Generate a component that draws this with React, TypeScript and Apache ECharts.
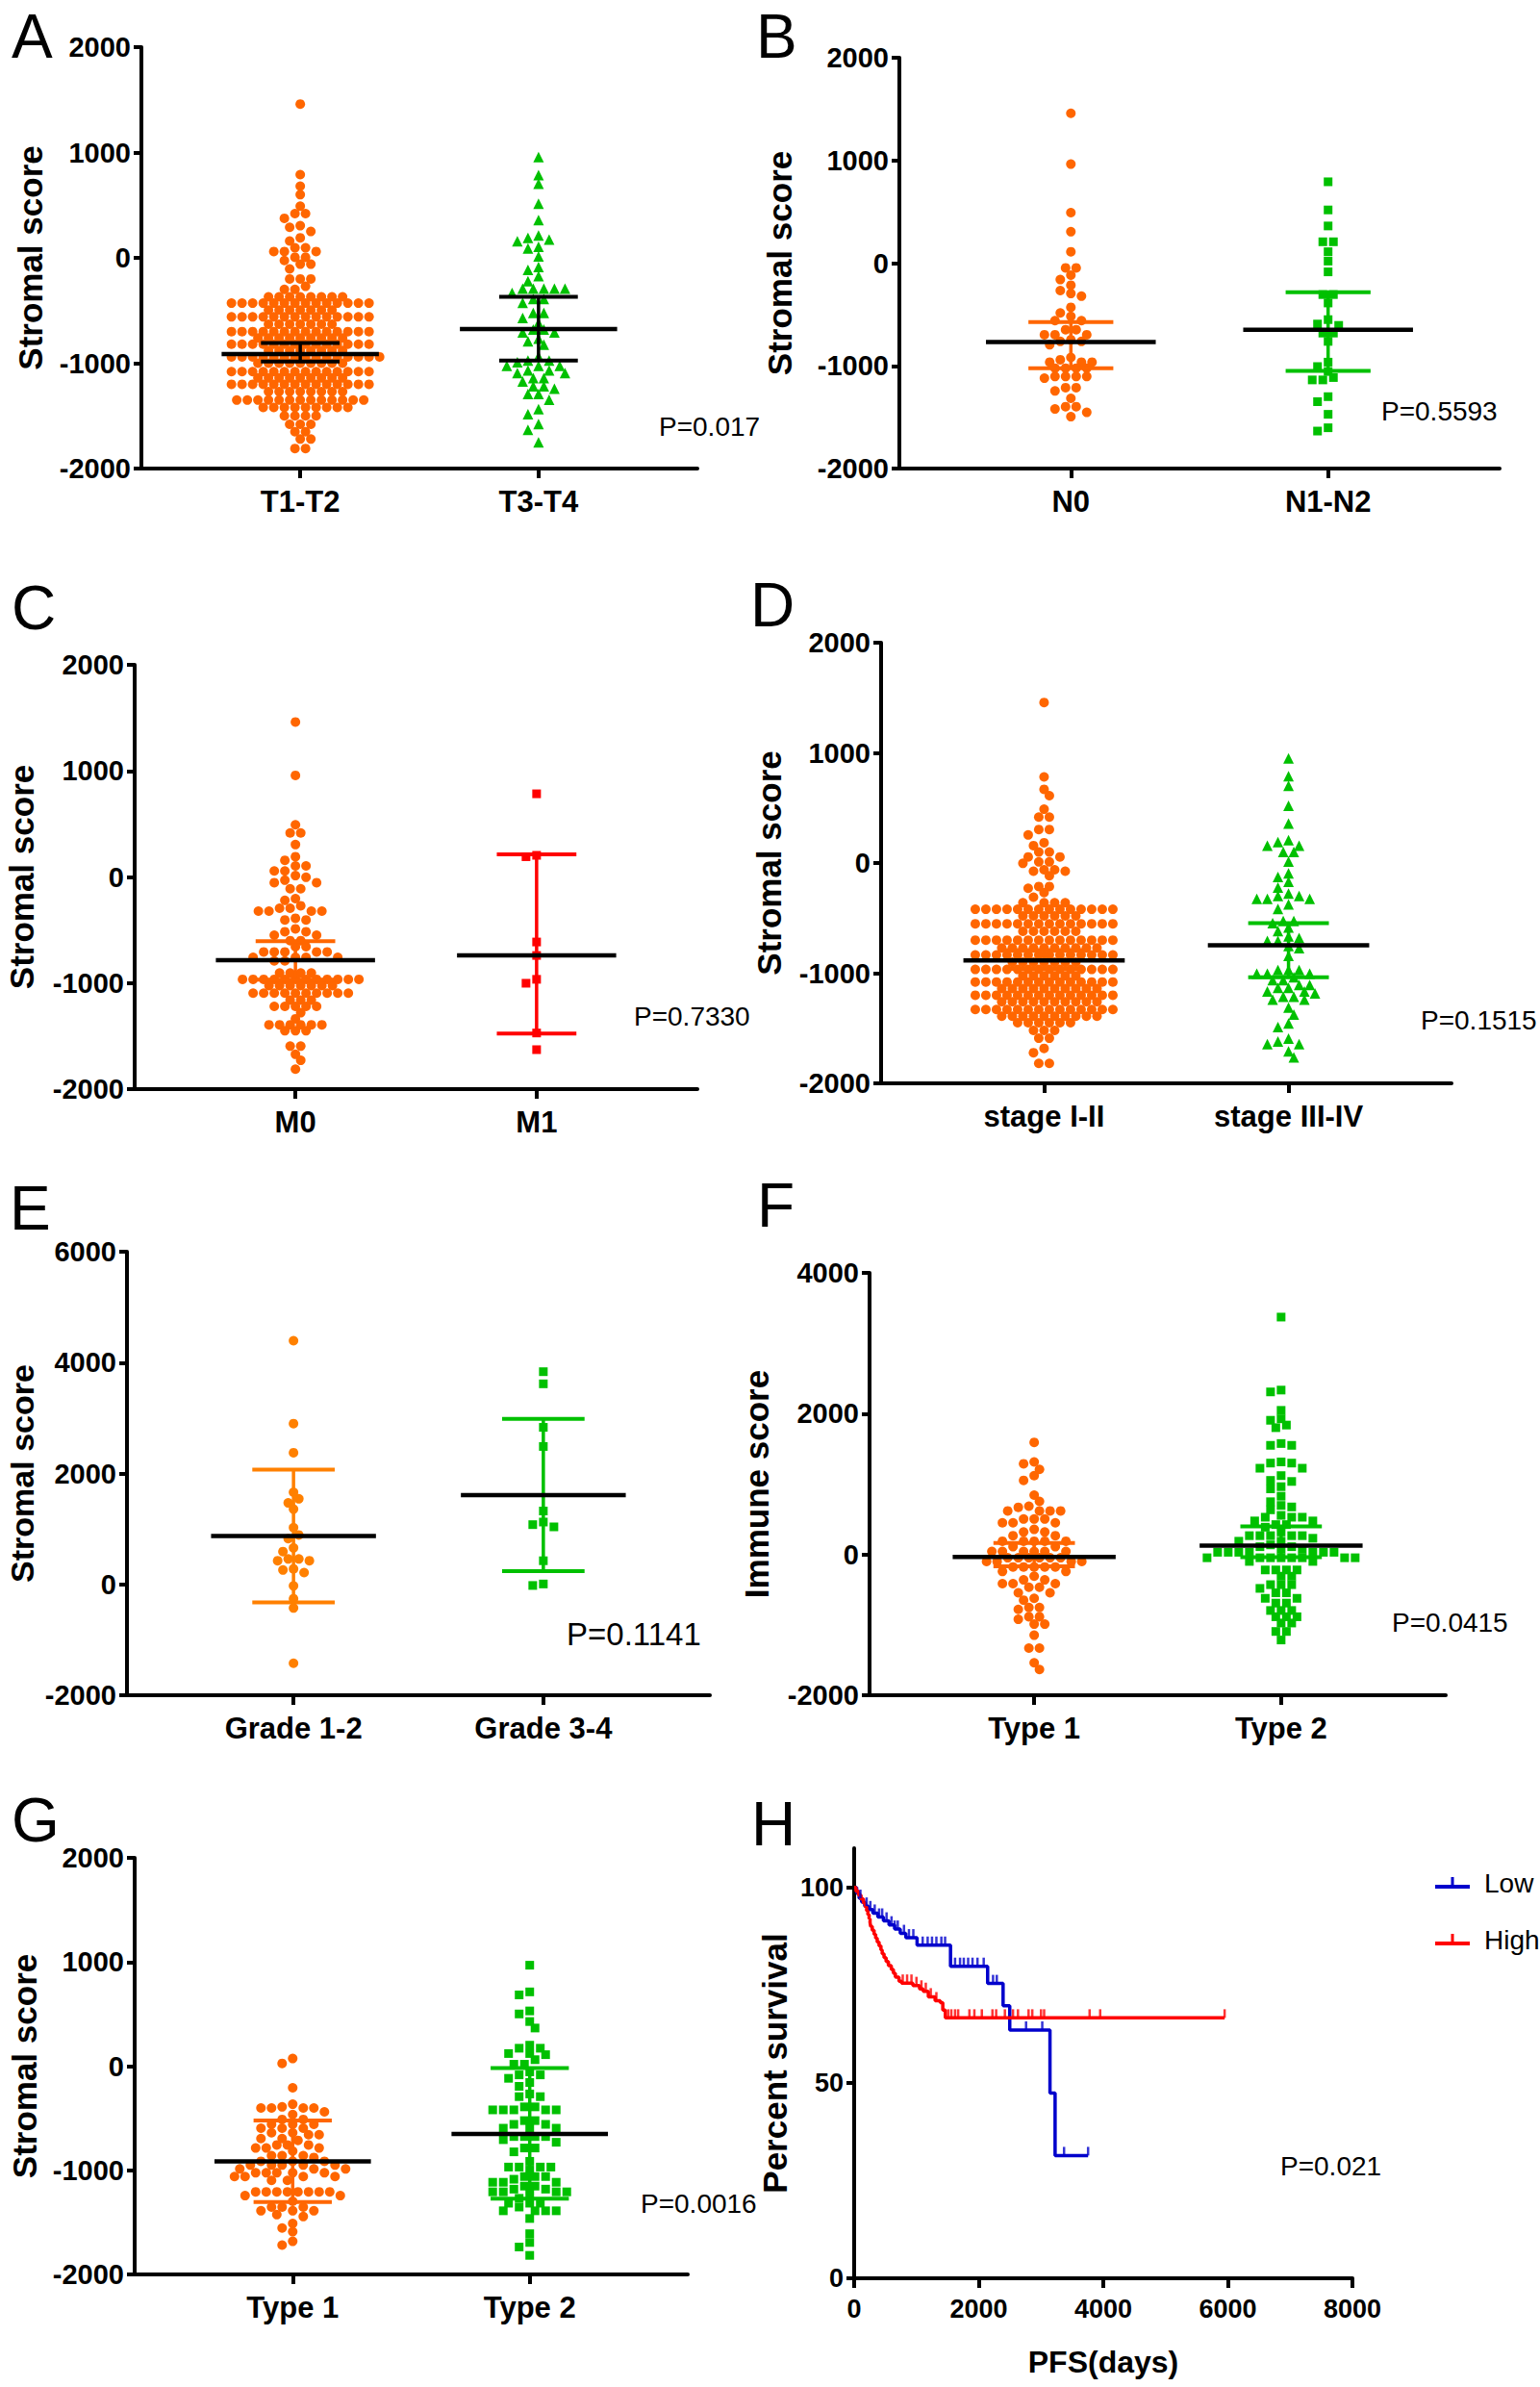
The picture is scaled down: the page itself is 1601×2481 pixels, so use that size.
import React, { useEffect, useRef } from 'react';
import * as echarts from 'echarts';

const FONT = '"Liberation Sans", Arial, Helvetica, sans-serif';
const ORANGE = '#FF6600';
const ORANGE_E = '#FF8000';
const GREEN = '#00C000';
const RED = '#FF0000';
const BLUE = '#0000CC';
const BLACK = '#000000';

// ---------- DATA (value, count) rows ----------
const A_categories = ['T1-T2', 'T3-T4'];
const A_T12_rows: [number, number][] = [[1460,1],[790,1],[680,1],[600,1],[490,1],[420,2],[375,1],[305,1],[290,1],[250,1],[190,1],[160,1],[95,2],[60,3],[5,2],[-25,1],[-60,2],[-105,1],[-200,3],[-270,1],[-300,2],
  [-370,8],[-430,14],[-495,7],[-560,14],[-630,7],[-700,14],[-760,9],[-820,14],[-880,8],[-940,15],[-1000,9],[-1080,14],[-1140,9],[-1200,14],[-1270,8],[-1350,13],[-1420,9],[-1500,4],[-1580,3],[-1650,2],[-1720,2],[-1810,2]];
const A_T34_rows: [number, number][] = [[957,1],[786,1],[704,1],[513,1],[358,1],[212,1],[190,1],[174,1],[158,1],[105,1],[89,1],[13,1],[-86,1],[-114,1],[-174,1],[-222,1],[-292,5],[-333,1],[-390,2],[-428,1],[-523,2],[-570,1],[-618,1],[-681,2],[-707,2],[-767,1],[-792,1],[-824,1],[-935,1],[-976,2],[-992,1],[-1024,3],[-1068,2],[-1093,2],[-1141,2],[-1173,1],[-1220,2],[-1242,1],[-1293,2],[-1347,1],[-1436,1],[-1483,1],[-1578,1],[-1632,1],[-1750,1]];
const A_mean = [-913, -675];
const A_low = [-983, -976];
const A_high = [-808, -371];

const B_categories = ['N0', 'N1-N2'];
const B_N0_rows: [number, number][] = [[1459,1],[964,1],[492,1],[306,1],[111,1],[-46,2],[-117,1],[-160,1],[-215,1],[-267,1],[-296,1],[-322,1],[-430,1],[-485,1],[-518,1],[-560,2],[-648,2],[-697,3],[-746,1],[-762,2],[-795,1],[-918,1],[-941,1],[-964,3],[-1023,4],[-1104,4],[-1120,1],[-1212,2],[-1244,1],[-1316,1],[-1397,2],[-1420,1],[-1453,1],[-1495,1]];
const B_N12_rows: [number, number][] = [[792,1],[518,1],[362,1],[208,2],[111,1],[20,1],[-85,1],[-306,2],[-388,1],[-550,1],[-593,1],[-606,1],[-681,2],[-762,1],[-964,1],[-1007,1],[-1055,1],[-1114,1],[-1137,2],[-1300,1],[-1349,1],[-1472,1],[-1603,1],[-1635,1]];
const B_mean = [-769, -648];
const B_low = [-1023, -1049];
const B_high = [-573, -283];

const C_categories = ['M0', 'M1'];
const C_M0_rows: [number, number][] = [[1461,1],[958,1],[492,1],[415,2],[305,1],[191,1],[157,1],[104,2],[57,2],[13,1],[-3,1],[-30,1],[-54,2],[-111,2],[-204,1],[-221,1],[-271,1],[-295,2],[-322,4],[-389,1],[-405,2],[-489,1],[-516,2],[-549,2],[-600,2],[-657,2],[-707,5],[-757,4],[-791,2],[-905,4],[-965,12],[-1025,7],[-1095,10],[-1160,3],[-1220,5],[-1280,1],[-1337,1],[-1394,6],[-1450,3],[-1595,2],[-1672,1],[-1729,1],[-1812,1]];
const C_M1_rows: [number, number][] = [[784,1],[204,1],[191,1],[-613,1],[-740,1],[-965,1],[-1002,1],[-1471,1],[-1628,1]];
const C_mean = [-784, -740];
const C_low = [-968, -1477];
const C_high = [-606, 214];

const D_categories = ['stage I-II', 'stage III-IV'];
const D_I_II_rows: [number, number][] = [[1457,1],[782,1],[669,1],[611,1],[488,1],[417,2],[304,2],[255,1],[184,1],[158,1],[100,2],[55,2],[10,2],[-3,1],[-61,2],[-74,2],[-116,1],[-213,2],[-229,1],[-268,1],[-310,1],
  [-360,4],[-420,14],[-480,6],[-552,14],[-620,6],[-700,14],[-770,10],[-835,14],[-900,7],[-966,14],[-1025,6],[-1080,14],[-1140,10],[-1200,14],[-1260,10],[-1330,14],[-1390,10],[-1450,6],[-1520,3],[-1590,2],[-1683,1],[-1722,1],[-1819,2]];
const D_III_IV_rows: [number, number][] = [[950,1],[788,1],[701,1],[520,1],[359,1],[207,1],[191,1],[158,2],[100,2],[13,1],[-94,1],[-126,1],[-171,1],[-223,1],[-278,1],[-300,2],[-326,3],[-375,1],[-417,1],[-527,2],[-546,1],[-585,1],[-617,1],[-666,1],[-682,1],[-708,2],[-753,1],[-772,1],[-843,1],[-972,3],[-1005,3],[-1037,1],[-1063,2],[-1108,2],[-1134,2],[-1166,2],[-1183,1],[-1215,2],[-1241,2],[-1312,1],[-1376,1],[-1457,1],[-1489,1],[-1593,1],[-1619,1],[-1645,2],[-1709,1],[-1764,1]];
const D_mean = [-885, -746];
const D_low = [-960, -1037];
const D_high = [-790, -546];

const E_categories = ['Grade 1-2', 'Grade 3-4'];
const E_G12_rows: [number, number][] = [[4395,1],[2900,1],[2374,1],[1662,1],[1543,1],[1469,1],[1356,1],[1024,1],[891,1],[824,1],[658,1],[592,1],[459,2],[426,2],[279,1],[259,1],[213,1],[-27,1],[-259,1],[-426,1],[-1423,1]];
const E_G34_rows: [number, number][] = [[3836,1],[3617,1],[2832,1],[2487,1],[1323,1],[1124,1],[1077,1],[1037,1],[426,1],[7,1],[-20,1]];
const E_mean = [871, 1609];
const E_low = [-326, 239];
const E_high = [2068, 2985];

const F_categories = ['Type 1', 'Type 2'];
const F_T1_rows: [number, number][] = [[1592,1],[1314,1],[1288,1],[1209,1],[1120,1],[1052,1],[843,1],[754,1],[686,1],[670,1],[618,4],[503,3],[450,3],[356,1],[319,2],[267,2],[188,5],[110,2],[42,6],[-47,6],[-99,4],[-178,5],[-241,2],[-309,1],[-361,2],[-414,3],[-466,2],[-545,2],[-623,1],[-649,1],[-754,2],[-780,1],[-885,2],[-921,1],[-990,2],[-1147,1],[-1330,2],[-1539,1],[-1634,1]];
const F_T2_rows: [number, number][] = [[3372,1],[2335,1],[2309,1],[2047,1],[1927,1],[1906,1],[1838,1],[1801,1],[1576,1],[1550,2],[1314,1],[1298,2],[1225,2],[1120,1],[1052,1],[1037,1],[963,1],[932,1],[827,1],[749,1],[696,1],[675,1],[634,1],[555,1],[529,3],[476,2],[424,2],[387,1],[319,1],[267,5],[230,1],[188,2],[136,1],[110,2],[73,2],[31,7],[-47,8],[-99,2],[-220,4],[-309,2],[-429,3],[-482,1],[-545,2],[-623,2],[-691,2],[-796,3],[-885,3],[-974,2],[-1094,2],[-1215,1]];
const F_mean = [-37, 126];
const F_low = [-168, -40];
const F_high = [162, 400];

const G_categories = ['Type 1', 'Type 2'];
const G_T1_rows: [number, number][] = [[73,1],[26,1],[-208,1],[-366,1],[-391,1],[-402,4],[-439,1],[-464,1],[-512,2],[-559,3],[-596,3],[-640,2],[-658,2],[-695,2],[-713,1],[-757,3],[-786,3],[-815,1],[-859,3],[-877,1],[-914,3],[-950,5],[-987,3],[-1024,5],[-1060,4],[-1097,2],[-1207,8],[-1243,2],[-1298,1],[-1353,3],[-1389,3],[-1426,1],[-1444,1],[-1510,1],[-1554,1],[-1590,1],[-1682,1],[-1718,1]];
const G_T2_rows: [number, number][] = [[969,1],[713,1],[684,1],[530,1],[501,1],[428,1],[366,1],[201,1],[172,2],[121,2],[110,1],[62,1],[18,2],[-55,1],[-84,2],[-117,1],[-157,1],[-194,1],[-267,1],[-293,2],[-391,2],[-420,5],[-523,2],[-559,2],[-596,3],[-676,4],[-706,1],[-731,1],[-786,2],[-823,1],[-914,1],[-969,4],[-998,1],[-1060,3],[-1086,1],[-1115,3],[-1152,2],[-1181,2],[-1207,4],[-1225,1],[-1269,1],[-1316,3],[-1353,1],[-1389,4],[-1463,1],[-1609,1],[-1693,1],[-1737,1],[-1817,1]];
const G_mean = [-914, -651];
const G_low = [-1305, -1272];
const G_high = [-523, -18];

// Kaplan-Meier (panel H)
const H_Low_times = [0, 40, 80, 120, 170, 230, 300, 380, 470, 560, 650, 740, 830, 1010, 1547, 2143, 2391, 2498, 3144, 3226];
const H_Low_surv = [100, 98.5, 97.2, 96.2, 95.2, 94.3, 93.4, 92.4, 91.4, 90.4, 89.3, 88.2, 87.1, 85.2, 79.8, 75.4, 69.7, 63.5, 47.4, 31.4];
const H_Low_end = 3756;
const H_Low_censor = [100, 200, 260, 330, 400, 450, 520, 600, 650, 700, 800, 880, 950, 1100, 1180, 1250, 1320, 1400, 1460, 1620, 1700, 1760, 1830, 1900, 1980, 2080, 2230, 2290, 2760, 3020, 3370, 3756];
const H_High_times = [0, 30, 70, 110, 150, 180, 200, 220, 240, 255, 265, 290, 320, 345, 370, 400, 430, 450, 480, 513, 550, 596, 630, 662, 720, 761, 943, 1050, 1109, 1191, 1300, 1382, 1423, 1464];
const H_High_surv = [100, 99, 98, 97, 96, 95, 94, 93, 92, 91, 90, 89, 88, 87, 86, 85, 84, 83, 82, 81, 80, 79, 78, 77, 76, 75.5, 74.9, 74, 73.4, 72, 71, 70.5, 68.6, 66.6];
const H_High_end = 5948;
const H_High_censor = [780, 850, 920, 1000, 1080, 1150, 1230, 1320, 1510, 1560, 1620, 1670, 1850, 1930, 2050, 2220, 2280, 2420, 2550, 2630, 2800, 2860, 3000, 3050, 3780, 3950, 5948];
const H_x_ticks = [0, 2000, 4000, 6000, 8000];
const H_y_ticks = [0, 50, 100];

// ---------- helpers ----------
function expand(rows: [number, number][]): number[] {
  const out: number[] = [];
  rows.forEach(([v, n]) => { for (let i = 0; i < n; i++) out.push(v); });
  return out;
}

// beeswarm layout: returns horizontal pixel offsets
function swarm(values: number[], pxPerUnit: number, d: number): number[] {
  const minDist = d * 0.75;
  const placed: { x: number; y: number }[] = [];
  const res: number[] = new Array(values.length).fill(0);
  const order = values.map((v, i) => ({ v, i })).sort((a, b) => b.v - a.v);
  const hit = (x: number, y: number) => placed.some(p => (p.x - x) ** 2 + (p.y - y) ** 2 < minDist * minDist);
  let k = 0;
  while (k < order.length) {
    let j = k;
    while (j < order.length && order[j].v === order[k].v) j++;
    const n = j - k;
    const y = -order[k].v * pxPerUnit;
    let chosen: number[] | null = null;
    for (const shift of [0, d / 2, -d / 2]) {
      const xs = Array.from({ length: n }, (_, t) => (t - (n - 1) / 2) * d + shift);
      if (xs.every(x => !hit(x, y))) { chosen = xs; break; }
    }
    if (chosen) {
      chosen.forEach((x, t) => { placed.push({ x, y }); res[order[k + t].i] = x; });
    } else {
      for (let t = k; t < j; t++) {
        let x = 0;
        for (let s = 0; s < 600; s++) {
          const c = (s % 2 === 0 ? 1 : -1) * Math.ceil(s / 2) * (d / 2);
          if (!hit(c, y)) { x = c; break; }
        }
        placed.push({ x, y });
        res[order[t].i] = x;
      }
    }
    k = j;
  }
  return res;
}

function survAt(times: number[], surv: number[], t: number) {
  let s = surv[0];
  for (let i = 0; i < times.length; i++) if (times[i] <= t) s = surv[i];
  return s;
}

const XMIN = 1 / 3, XMAX = 8 / 3;

type Group = { rows: [number, number][]; symbol: string; size: number; color: string };
type Panel = {
  letter: string; lx: number; ly: number;
  grid: { left: number; top: number; width: number; height: number };
  yMin: number; yMax: number; yInterval: number; yName: string; nameGap: number; nameSize: number;
  cats: string[]; groups: Group[];
  mean: number[]; low: number[]; high: number[]; barColors: string[];
  p: { text: string; x: number; y: number; size: number };
};

const PANELS: Panel[] = [
  { letter: 'A', lx: 12, ly: 38, grid: { left: 147, top: 49, width: 578, height: 438 }, yMin: -2000, yMax: 2000, yInterval: 1000, yName: 'Stromal score', nameGap: 100, nameSize: 35,
    cats: A_categories, groups: [{ rows: A_T12_rows, symbol: 'circle', size: 10, color: ORANGE }, { rows: A_T34_rows, symbol: 'triangle', size: 11, color: GREEN }],
    mean: A_mean, low: A_low, high: A_high, barColors: [BLACK, BLACK], p: { text: 'P=0.017', x: 685, y: 443, size: 28 } },
  { letter: 'B', lx: 786, ly: 38, grid: { left: 935, top: 60, width: 624, height: 427 }, yMin: -2000, yMax: 2000, yInterval: 1000, yName: 'Stromal score', nameGap: 109, nameSize: 35,
    cats: B_categories, groups: [{ rows: B_N0_rows, symbol: 'circle', size: 10, color: ORANGE }, { rows: B_N12_rows, symbol: 'rect', size: 9, color: GREEN }],
    mean: B_mean, low: B_low, high: B_high, barColors: [ORANGE, GREEN], p: { text: 'P=0.5593', x: 1436, y: 427, size: 28 } },
  { letter: 'C', lx: 12, ly: 632, grid: { left: 140, top: 691, width: 585, height: 441 }, yMin: -2000, yMax: 2000, yInterval: 1000, yName: 'Stromal score', nameGap: 102, nameSize: 35,
    cats: C_categories, groups: [{ rows: C_M0_rows, symbol: 'circle', size: 10, color: ORANGE }, { rows: C_M1_rows, symbol: 'rect', size: 9, color: RED }],
    mean: C_mean, low: C_low, high: C_high, barColors: [ORANGE, RED], p: { text: 'P=0.7330', x: 659, y: 1056, size: 28 } },
  { letter: 'D', lx: 780, ly: 629, grid: { left: 916, top: 668, width: 593, height: 458 }, yMin: -2000, yMax: 2000, yInterval: 1000, yName: 'Stromal score', nameGap: 101, nameSize: 35,
    cats: D_categories, groups: [{ rows: D_I_II_rows, symbol: 'circle', size: 10, color: ORANGE }, { rows: D_III_IV_rows, symbol: 'triangle', size: 11, color: GREEN }],
    mean: D_mean, low: D_low, high: D_high, barColors: [ORANGE, GREEN], p: { text: 'P=0.1515', x: 1477, y: 1060, size: 28 } },
  { letter: 'E', lx: 10, ly: 1256, grid: { left: 132, top: 1301, width: 606, height: 461 }, yMin: -2000, yMax: 6000, yInterval: 2000, yName: 'Stromal score', nameGap: 93, nameSize: 34,
    cats: E_categories, groups: [{ rows: E_G12_rows, symbol: 'circle', size: 10, color: ORANGE_E }, { rows: E_G34_rows, symbol: 'rect', size: 9, color: GREEN }],
    mean: E_mean, low: E_low, high: E_high, barColors: [ORANGE_E, GREEN], p: { text: 'P=0.1141', x: 589, y: 1698, size: 33 } },
  { letter: 'F', lx: 787, ly: 1253, grid: { left: 904, top: 1323, width: 599, height: 439 }, yMin: -2000, yMax: 4000, yInterval: 2000, yName: 'Immune score', nameGap: 102, nameSize: 35,
    cats: F_categories, groups: [{ rows: F_T1_rows, symbol: 'circle', size: 10, color: ORANGE }, { rows: F_T2_rows, symbol: 'rect', size: 9, color: GREEN }],
    mean: F_mean, low: F_low, high: F_high, barColors: [ORANGE, GREEN], p: { text: 'P=0.0415', x: 1447, y: 1686, size: 28 } },
  { letter: 'G', lx: 12, ly: 1892, grid: { left: 140, top: 1931, width: 575, height: 433 }, yMin: -2000, yMax: 2000, yInterval: 1000, yName: 'Stromal score', nameGap: 99, nameSize: 35,
    cats: G_categories, groups: [{ rows: G_T1_rows, symbol: 'circle', size: 10, color: ORANGE }, { rows: G_T2_rows, symbol: 'rect', size: 9, color: GREEN }],
    mean: G_mean, low: G_low, high: G_high, barColors: [ORANGE, GREEN], p: { text: 'P=0.0016', x: 666, y: 2290, size: 28 } },
];

const H_GRID = { left: 888, top: 1921, width: 518, height: 447 };

const axisLineStyle = { color: BLACK, width: 4 };
const letterStyle = (text: string) => ({ text, fill: BLACK, fontSize: 64, fontFamily: FONT, align: 'left', verticalAlign: 'middle' });

function buildOption() {
  const grids: any[] = [];
  const xAxes: any[] = [];
  const yAxes: any[] = [];
  const series: any[] = [];
  const graphics: any[] = [];
  const D_SPACING = 11;
  const CAP = 0.165, MEAN = 0.33;

  PANELS.forEach((p, i) => {
    grids.push({ ...p.grid, outerBoundsMode: 'none', containLabel: false });
    const cats = p.cats;
    xAxes.push({
      type: 'value', gridIndex: i, min: XMIN, max: XMAX,
      axisLine: { show: true, onZero: false, lineStyle: axisLineStyle },
      axisTick: { show: true, customValues: [1, 2], length: 10, lineStyle: axisLineStyle },
      axisLabel: { show: true, customValues: [1, 2], formatter: (v: number) => cats[Math.round(v) - 1] || '', fontSize: 31, fontWeight: 'bold', color: BLACK, margin: 19, fontFamily: FONT },
      splitLine: { show: false },
    });
    yAxes.push({
      type: 'value', gridIndex: i, min: p.yMin, max: p.yMax, interval: p.yInterval,
      axisLine: { show: true, onZero: false, lineStyle: axisLineStyle },
      axisTick: { show: true, length: 8, lineStyle: axisLineStyle },
      axisLabel: { show: true, formatter: (v: number) => String(v), fontSize: 29, fontWeight: 'bold', color: BLACK, margin: 11, fontFamily: FONT },
      splitLine: { show: false },
      name: p.yName, nameLocation: 'middle', nameGap: p.nameGap,
      nameTextStyle: { fontSize: p.nameSize, lineHeight: 32, fontWeight: 'bold', color: BLACK, fontFamily: FONT },
    });
    const pxPerY = p.grid.height / (p.yMax - p.yMin);
    const pxPerX = p.grid.width / (XMAX - XMIN);
    p.groups.forEach((g, gi) => {
      const vals = expand(g.rows);
      const offs = swarm(vals, pxPerY, D_SPACING);
      series.push({
        type: 'scatter', xAxisIndex: i, yAxisIndex: i, silent: true, z: 2,
        symbol: g.symbol, symbolSize: g.size, itemStyle: { color: g.color, opacity: 1 },
        data: vals.map((v, k) => [gi + 1 + offs[k] / pxPerX, v]),
      });
    });
    const barColors = p.barColors;
    series.push({
      type: 'custom', xAxisIndex: i, yAxisIndex: i, silent: true, z: 5,
      data: p.mean.map((m, k) => [k + 1, m, p.low[k], p.high[k]]),
      renderItem: (params: any, api: any) => {
        const c = api.value(0), m = api.value(1), lo = api.value(2), hi = api.value(3);
        const col = barColors[params.dataIndex];
        const P = (x: number, y: number) => api.coord([x, y]);
        const seg = (a: number[], b: number[], stroke: string, w: number) => ({
          type: 'line', shape: { x1: a[0], y1: a[1], x2: b[0], y2: b[1] }, style: { stroke, lineWidth: w },
        });
        return {
          type: 'group',
          children: [
            seg(P(c, lo), P(c, hi), col, 3.5),
            seg(P(c - CAP, hi), P(c + CAP, hi), col, 4),
            seg(P(c - CAP, lo), P(c + CAP, lo), col, 4),
            seg(P(c - MEAN, m), P(c + MEAN, m), BLACK, 4.5),
          ],
        };
      },
    });
    graphics.push({ type: 'text', x: p.lx, y: p.ly, style: letterStyle(p.letter) });
    graphics.push({ type: 'text', x: p.p.x, y: p.p.y, style: { text: p.p.text, fill: BLACK, fontSize: p.p.size, fontFamily: FONT, align: 'left', verticalAlign: 'middle' } });
  });

  // Panel H
  const hi = PANELS.length;
  grids.push({ ...H_GRID, outerBoundsMode: 'none', containLabel: false });
  xAxes.push({
    type: 'value', gridIndex: hi, min: 0, max: 8000, interval: 2000,
    axisLine: { show: true, onZero: false, lineStyle: axisLineStyle },
    axisTick: { show: true, customValues: H_x_ticks, length: 10, lineStyle: axisLineStyle },
    axisLabel: { show: true, customValues: H_x_ticks, formatter: (v: number) => String(v), fontSize: 27, fontWeight: 'bold', color: BLACK, margin: 18, fontFamily: FONT },
    splitLine: { show: false },
    name: 'PFS(days)', nameLocation: 'middle', nameGap: 71,
    nameTextStyle: { fontSize: 32, fontWeight: 'bold', color: BLACK, fontFamily: FONT },
  });
  yAxes.push({
    type: 'value', gridIndex: hi, min: 0, max: 110,
    axisLine: { show: true, onZero: false, lineStyle: axisLineStyle },
    axisTick: { show: true, customValues: H_y_ticks, length: 8, lineStyle: axisLineStyle },
    axisLabel: { show: true, customValues: H_y_ticks, formatter: (v: number) => String(v), fontSize: 27, fontWeight: 'bold', color: BLACK, margin: 11, fontFamily: FONT },
    splitLine: { show: false },
    name: 'Percent survival', nameLocation: 'middle', nameGap: 67,
    nameTextStyle: { fontSize: 35, lineHeight: 32, fontWeight: 'bold', color: BLACK, fontFamily: FONT },
  });
  const km = (name: string, times: number[], surv: number[], end: number, cens: number[], color: string) => {
    series.push({
      type: 'line', name, xAxisIndex: hi, yAxisIndex: hi, step: 'end', symbol: 'none', showSymbol: false, silent: true, z: 3,
      lineStyle: { color, width: 3.5 }, itemStyle: { color },
      data: [...times.map((t, k) => [t, surv[k]]), [end, surv[surv.length - 1]]],
    });
    series.push({
      type: 'scatter', name: name + ' censored', xAxisIndex: hi, yAxisIndex: hi, silent: true, z: 3,
      symbol: 'rect', symbolSize: [2.5, 9], symbolOffset: [0, -4.5], itemStyle: { color },
      data: cens.map(t => [t, survAt(times, surv, t)]),
    });
  };
  km('Low', H_Low_times, H_Low_surv, H_Low_end, H_Low_censor, BLUE);
  km('High', H_High_times, H_High_surv, H_High_end, H_High_censor, RED);
  graphics.push({ type: 'text', x: 781, y: 1896, style: letterStyle('H') });
  graphics.push({ type: 'text', x: 1331, y: 2251, style: { text: 'P=0.021', fill: BLACK, fontSize: 28, fontFamily: FONT, align: 'left', verticalAlign: 'middle' } });

  const ICON = 'path://M0,10 L36,10 L36,14 L0,14 Z M16.5,2 L19.5,2 L19.5,10 L16.5,10 Z';
  return {
    animation: false,
    backgroundColor: '#ffffff',
    textStyle: { fontFamily: FONT },
    grid: grids,
    xAxis: xAxes,
    yAxis: yAxes,
    series,
    graphic: graphics,
    legend: {
      show: true, orient: 'vertical', left: 1487, top: 1938, itemGap: 31, itemWidth: 36, itemHeight: 12,
      data: [{ name: 'Low', icon: ICON }, { name: 'High', icon: ICON }],
      itemStyle: { borderWidth: 0 },
      textStyle: { fontSize: 28, color: BLACK, fontFamily: FONT, padding: [0, 0, 0, 10] },
      selectedMode: false,
    },
  };
}

export default function App() {
  const ref = useRef<HTMLDivElement>(null);
  useEffect(() => {
    if (!ref.current) return;
    const chart = echarts.init(ref.current, null, { renderer: 'svg', width: 1601, height: 2481 });
    chart.setOption(buildOption() as any);
    return () => chart.dispose();
  }, []);
  return <div ref={ref} style={{ position: 'absolute', left: 0, top: 0, width: 1601, height: 2481, background: '#fff' }} />;
}
